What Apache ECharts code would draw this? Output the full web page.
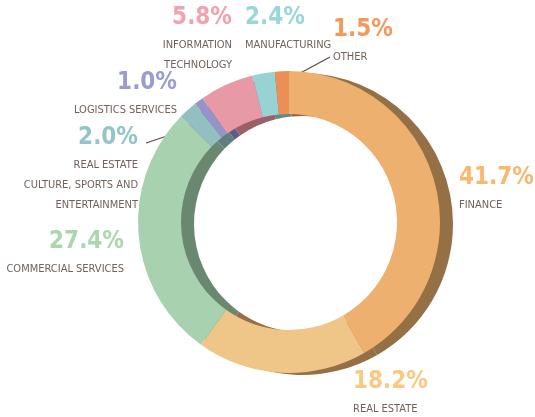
<!DOCTYPE html>
<html>
<head>
<meta charset="utf-8">
<script src="https://cdn.jsdelivr.net/npm/echarts@6/dist/echarts.min.js"></script>
<style>
  html, body { margin: 0; padding: 0; background: #fff; }
  #donut { width: 535px; height: 417px; }
</style>
</head>
<body>
<div id="donut"></div>
<script>

// data (percent share, clockwise from 12 o'clock)
var sectors = ["FINANCE", "REAL ESTATE", "COMMERCIAL SERVICES", "REAL ESTATE\nCULTURE, SPORTS AND\nENTERTAINMENT", "LOGISTICS SERVICES", "INFORMATION\nTECHNOLOGY", "MANUFACTURING", "OTHER"];
var shares = [41.7, 18.2, 27.4, 2.0, 1.0, 5.8, 2.4, 1.5];

var frontColors = ["#EDB06F", "#EFC687", "#A8D1B0", "#93BFC2", "#9693C8", "#E79AA5", "#99D2D3", "#EB8F54"];
var backColors = ["#957044", "#957044", "#6A8770", "#5F7E80", "#5F5D85", "#9A6068", "#5F8A8A", "#9A5D35"];
var pctColors = ["#F8B86F", "#FAC97F", "#A9D7B0", "#93C4C8", "#9B9BD3", "#F3A1AE", "#9AD6D6", "#F29A5B"];

var narrowFont = "'Liberation Sans Narrow', 'DejaVu Sans Condensed', Roboto, sans-serif";

// where each label sits [x, y, align]
var labelSpots = [
  [459, 161, "left"],
  [353, 365, "left"],
  [124, 225, "right"],
  [138, 121, "right"],
  [177, 66, "right"],
  [232, 1, "right"],
  [245, 1, "left"],
  [333, 13, "left"]
];
// leader lines for the two small slices
var leaders = {
  3: [[200, 125], [173, 134], [146, 143]],
  7: [[282, 82], [306, 70], [330, 57]]
};

var chart = echarts.init(document.getElementById("donut"));

var frontData = [];
var backData = [];
for (var i = 0; i < sectors.length; i++) {
  frontData.push({
    value: shares[i],
    name: sectors[i],
    itemStyle: { color: frontColors[i] },
    label: {
      rich: {
        pct: { fontSize: 24, fontWeight: "bold", lineHeight: 34, color: pctColors[i], fontFamily: narrowFont, align: labelSpots[i][2] },
        name: { fontSize: 11, lineHeight: 20, color: "#6F625D", fontFamily: narrowFont, align: labelSpots[i][2] }
      }
    },
    labelLine: { show: leaders[i] ? true : false }
  });
  backData.push({
    value: shares[i],
    name: sectors[i],
    itemStyle: { color: backColors[i] }
  });
}

var option = {
  animation: false,
  series: [
    {
      type: "pie",
      silent: true,
      z: 1,
      center: [302, 224],
      radius: [108, 151],
      startAngle: 90,
      label: { show: false },
      labelLine: { show: false },
      data: backData
    },
    {
      type: "pie",
      z: 2,
      center: [289, 222],
      radius: [108, 151],
      startAngle: 90,
      label: {
        show: true,
        position: "outside",
        overflow: "none",
        fontFamily: narrowFont,
        formatter: function (p) {
          return "{pct|" + p.value.toFixed(1) + "%}\n{name|" + p.name.split("\n").join("}\n{name|") + "}";
        }
      },
      labelLine: {
        lineStyle: { color: "#5A4A42", width: 1.2 }
      },
      labelLayout: function (params) {
        var s = labelSpots[params.dataIndex];
        var res = { x: s[0], y: s[1], align: s[2], verticalAlign: "top" };
        if (leaders[params.dataIndex]) {
          res.labelLinePoints = leaders[params.dataIndex];
        }
        return res;
      },
      data: frontData
    }
  ]
};

chart.setOption(option);

</script>
</body>
</html>
